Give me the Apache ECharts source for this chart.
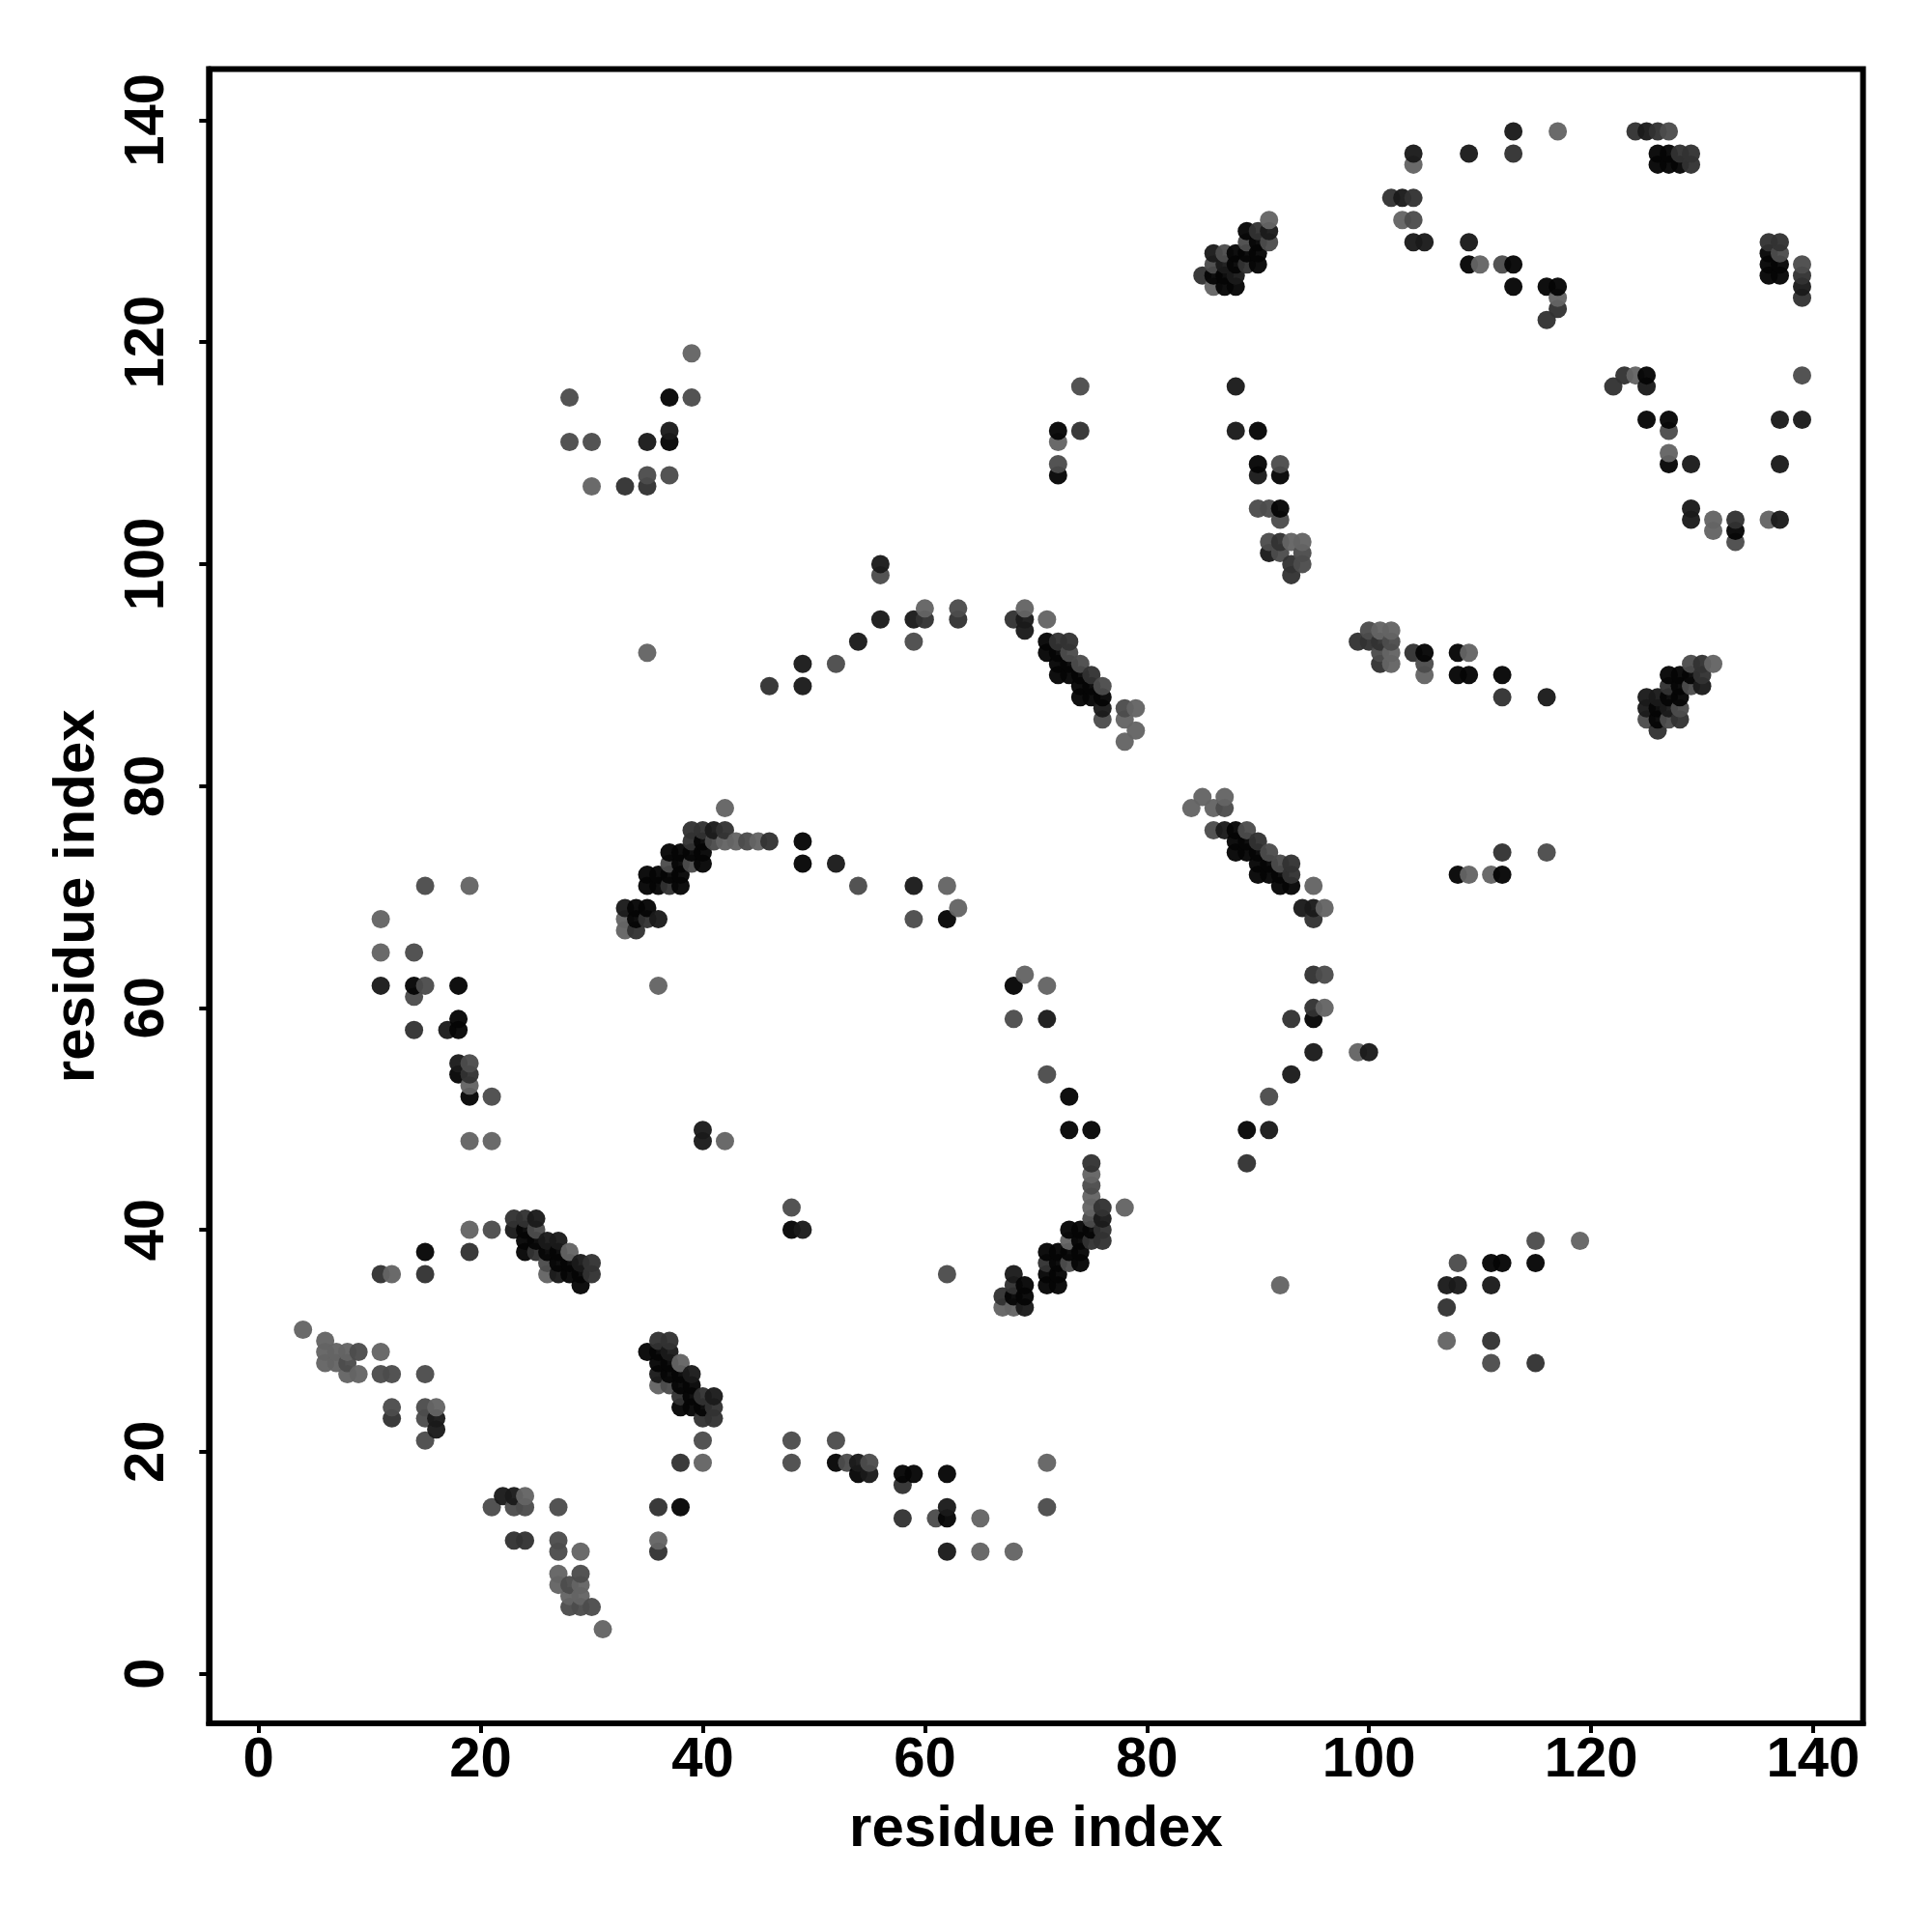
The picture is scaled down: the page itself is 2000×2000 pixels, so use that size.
<!DOCTYPE html>
<html><head><meta charset="utf-8">
<style>html,body{margin:0;padding:0;background:#fff}#c{width:2000px;height:2000px}</style>
<script src="https://cdn.jsdelivr.net/npm/echarts@6/dist/echarts.min.js"></script>
</head><body><div id="c"></div>
<script>
const tickValues=[0,20,40,60,80,100,120,140];
const axisTitle='residue index';
// contacts grouped by shade, darkest first, as [residue i, residue j]
const shade0=[[15,38],[38,15],[35,29],[36,29],[36,28],[37,28],[37,27],[38,27],[38,26],[39,26],[39,25],[38,24],[39,24],[40,24],[24,40],[24,39],[25,39],[24,38],[26,38],[27,38],[27,37],[28,37],[28,36],[29,36],[29,35],
[40,75],[49,75],[37,74],[38,74],[39,74],[40,74],[38,73],[40,73],[49,73],[35,72],[36,72],[37,72],[38,72],[35,71],[36,71],[38,71],[34,69],[35,69],[34,68],[62,68],[68,62],
[73,49],[75,49],[89,49],[73,40],[74,40],[75,40],[74,39],[71,38],[72,38],[73,38],[74,38],[72,37],[74,37],[71,36],[72,36],[69,35],[71,35],[72,35],[68,34],[69,34],
[71,93],[71,92],[72,92],[72,91],[73,91],[72,90],[73,90],[74,90],[74,89],[75,89],[74,88],[75,88],[76,88],
[88,76],[88,75],[89,75],[88,74],[89,74],[90,74],[90,73],[91,73],[90,72],[91,72],[92,72],[92,71],[93,71],
[89,130],[90,129],[88,128],[89,128],[90,128],[88,127],[90,127],[86,126],[87,126],[87,125],[88,125],
[126,137],[127,137],[126,136],[127,136],[128,136],[136,128],[136,127],[137,127],[136,126],[137,126],
[127,90],[128,90],[129,90],[128,89],[127,88],[128,88],[126,87],[126,86],
[37,111],[37,115],[72,112],[72,108],[90,112],[90,109],[92,108],[92,105],[105,92],[108,92],[108,90],[109,90],[112,90],[108,72],[112,72],[95,59],[111,37],[112,37],[115,37],
[14,62],[18,62],[18,59],[18,58],[18,54],[19,52],[48,40],[52,19],[54,18],[58,18],[59,18],[62,18],[62,14],[73,52],
[109,127],[113,127],[113,125],[116,125],[117,125],[125,117],[125,113],[127,113],[127,109],[133,103]];
const shade1=[[16,23],[16,22],[22,16],[23,16],[25,41],[23,40],[26,39],[27,39],[29,37],[27,36],[37,29],[36,27],[39,27],[41,25],[41,76],[33,69],[36,68],[52,73],[59,71],[40,49],[40,48],[91,49],[76,41],[68,36],[69,33],
[69,95],[69,94],[76,87],[87,76],[94,69],[95,69],[91,130],[86,128],[87,127],[88,126],[125,139],[139,125],[130,89],[125,88],[126,88],[125,87],[127,87],
[35,111],[37,112],[49,91],[49,89],[54,93],[56,95],[56,100],[59,95],[88,116],[88,112],[90,108],[91,101],[116,88],[95,56],[93,54],[100,56],[107,35],[108,35],[111,35],
[11,62],[17,58],[18,55],[49,40],[54,19],[55,18],[62,15],[62,11],[104,137],[109,137],[113,139],[103,133],[104,129],[105,129],[109,129],[125,116],[129,109],[129,105],[129,104],[137,104],[137,109],[137,113],[139,113],[71,59]];
const shade2=[[12,23],[23,12],[24,12],[36,15],[36,11],[19,38],[11,36],[15,36],[23,41],[24,41],[30,37],[30,36],[25,38],[36,30],[37,30],[38,25],[40,25],[40,23],[41,23],[41,24],[38,19],
[39,76],[40,76],[42,76],[39,75],[46,75],[37,71],[35,68],[34,67],[75,46],[89,46],[76,42],[76,40],[75,39],[76,39],[71,37],[68,35],[67,34],
[68,95],[72,93],[73,93],[75,90],[90,75],[93,73],[93,72],[95,68],[90,130],[89,127],[85,126],
[124,139],[126,139],[128,137],[129,137],[129,136],[136,129],[137,129],[139,126],[139,124],[130,91],[130,90],[127,89],[128,86],[126,85],
[33,107],[35,107],[74,112],[92,102],[93,100],[93,99],[99,93],[100,93],[101,93],[101,91],[104,92],[112,88],[112,74],[95,63],[95,60],[93,59],[107,33],[111,30],[115,28],
[14,58],[19,54],[58,17],[58,14],[102,133],[104,133],[113,137],[117,123],[116,122],[122,116],[123,117],[133,104],[60,95],[63,95],[46,89]];
const shade3=[[9,29],[8,28],[11,27],[12,27],[15,27],[12,24],[15,24],[15,23],[15,21],[21,15],[23,15],[24,15],[27,15],[27,12],[27,11],[29,9],[28,8],[28,6],[29,6],[30,6],[21,40],[25,40],[26,37],[37,26],[40,21],
[41,75],[44,75],[37,73],[39,73],[54,71],[59,68],[68,59],[71,54],[62,36],[75,44],[75,41],[73,37],
[78,87],[73,92],[74,91],[76,89],[76,86],[87,78],[86,76],[89,76],[91,74],[92,73],[87,128],[86,127],[89,129],[91,129],
[127,139],[137,128],[139,127],[129,91],[129,89],[128,87],[125,86],[127,86],
[28,115],[28,111],[30,111],[35,108],[39,115],[37,108],[52,91],[56,99],[59,93],[63,96],[74,116],[72,109],[92,109],[90,105],[91,105],[92,104],[91,102],[92,101],[94,101],[94,100],[100,94],[102,93],[101,92],[105,91],[116,74],[91,52],[108,37],[115,39],[111,28],
[14,65],[15,71],[15,62],[14,61],[19,55],[21,52],[48,42],[48,21],[48,19],[52,21],[53,19],[55,19],[61,14],[71,15],[104,131],[112,127],[127,112],[133,102],[139,117],[96,63]];
const shade4=[[4,31],[6,30],[6,29],[7,29],[8,29],[11,29],[6,28],[7,28],[8,27],[9,27],[16,24],[24,16],[29,11],[36,12],[27,9],[27,8],[29,8],[28,7],[29,7],[31,4],[19,40],[12,36],[26,36],[28,38],[38,28],[36,26],[40,19],
[42,78],[42,75],[43,75],[45,75],[62,71],[63,69],[33,68],[33,67],[36,62],[69,63],[71,62],[42,48],[75,45],[75,43],[75,42],[78,42],[73,39],[67,33],[68,33],[92,35],
[69,96],[71,95],[79,87],[78,86],[79,85],[78,84],[85,79],[87,79],[84,78],[86,78],[95,71],[96,69],[91,131],[86,125],[131,91],
[30,107],[39,119],[35,92],[60,96],[72,111],[93,102],[94,102],[101,94],[102,94],[102,92],[102,91],[105,90],[109,92],[109,72],[111,72],[96,60],[99,56],[119,39],[107,30],
[11,68],[11,65],[19,71],[19,53],[19,48],[21,48],[65,14],[65,11],[68,11],[71,19],[104,136],[117,139],[103,131],[110,127],[117,124],[124,117],[127,110],[131,104],[131,103],[136,104]];
const shades=[shade0,shade1,shade2,shade3,shade4];
const shadeColors=['rgba(5,5,5,0.96)','rgba(26,26,26,0.96)','rgba(50,50,50,0.96)','rgba(76,76,76,0.96)','rgba(100,100,100,0.96)'];

const seen=new Set(), points=[];
shades.forEach((list,s)=>list.forEach(p=>{const k=p[0]+','+p[1];if(!seen.has(k)){seen.add(k);points.push([p[0],p[1],s]);}}));
points.sort((a,b)=>a[0]-b[0]||a[1]-b[1]);

const chart=echarts.init(document.getElementById('c'),null,{renderer:'canvas'});
const font='"Liberation Sans",Arial,sans-serif';
const makeAxis=(min,max,extra)=>Object.assign({
  type:'value',min:min,max:max,name:axisTitle,nameLocation:'middle',
  nameTextStyle:{fontFamily:font,fontWeight:'bold',fontSize:60,color:'#000'},
  axisLine:{show:true,onZero:false,lineStyle:{color:'#000',width:6}},
  axisTick:{show:true,length:10,customValues:tickValues,lineStyle:{color:'#000',width:4}},
  splitLine:{show:false},
},extra);
chart.setOption({
  animation:false,backgroundColor:'#fff',
  grid:{left:216.3,right:2000-1928.6,top:71.5,bottom:2000-1784,show:true,borderColor:'#000',borderWidth:6,backgroundColor:'transparent'},
  xAxis:makeAxis(-4.47,144.49,{nameGap:80,
    axisLabel:{customValues:tickValues,fontFamily:font,fontWeight:'bold',fontSize:58,color:'#000',margin:10}}),
  yAxis:makeAxis(-4.48,144.61,{nameGap:106,nameRotate:90,
    axisLabel:{customValues:tickValues,rotate:90,fontFamily:font,fontWeight:'bold',fontSize:58,color:'#000',margin:34}}),
  series:[{type:'scatter',data:points,symbol:'circle',symbolSize:19,large:false,progressive:0,silent:true,clip:false,
    encode:{x:0,y:1},itemStyle:{opacity:1,color:p=>shadeColors[p.data[2]]}}]
});
</script></body></html>
